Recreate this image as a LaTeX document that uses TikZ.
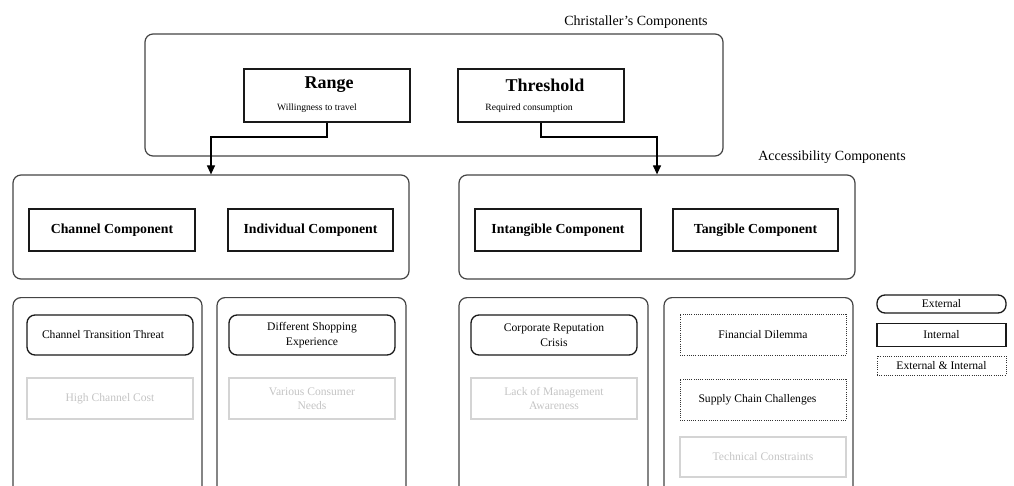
\documentclass[tikz,border=0pt]{standalone}
\usepackage{fontspec}
\setmainfont{Liberation Serif}
\usetikzlibrary{arrows.meta}
\definecolor{frame}{HTML}{444444}
\definecolor{ghost}{HTML}{D4D4D4}
\definecolor{ghosttext}{HTML}{C4C4C4}
\tikzset{
  outerbox/.style={draw=frame, line width=1.2pt, rounded corners=8pt, inner sep=0pt},
  compbox/.style={draw=black!90, line width=1.6pt, inner sep=0pt, minimum width=166pt, minimum height=42pt,
    font=\fontsize{13.8}{16}\selectfont\bfseries},
  topbox/.style={draw=black!90, line width=1.6pt, inner sep=0pt, minimum width=166pt, minimum height=53pt},
  extbox/.style={draw=black!90, line width=1.3pt, rounded corners=8pt, inner sep=0pt, minimum width=166pt,
    minimum height=40pt, align=center, font=\fontsize{11.6}{14.5}\selectfont},
  bothbox/.style={draw=black!80, line width=0.9pt, dash pattern=on 0.9pt off 1.3pt, inner sep=0pt,
    minimum width=166pt, minimum height=41pt, align=center, font=\fontsize{11.6}{14.5}\selectfont},
  ghostbox/.style={draw=ghost, line width=2pt, inner sep=0pt, minimum width=166pt, minimum height=41pt,
    align=center, text=ghosttext, font=\fontsize{11.6}{14.5}\selectfont},
  header/.style={font=\fontsize{14}{16}\selectfont, inner sep=0pt},
  titletext/.style={font=\fontsize{18}{20}\selectfont\bfseries, inner sep=0pt},
  subtext/.style={font=\fontsize{9.6}{11}\selectfont, inner sep=0pt},
  legendtext/.style={font=\fontsize{11.6}{13}\selectfont, inner sep=0pt, minimum width=129pt},
  conn/.style={line width=1.2pt, black, -{Triangle[length=9pt,width=8pt]}},
}
\begin{document}
\begin{tikzpicture}[x=1pt,y=-1pt]
\useasboundingbox (0,0) rectangle (1014,486);
\clip (0,0) rectangle (1014,486);

% Christaller's components
\node[header] (chlabel) at (636,22) {Christaller’s Components};
\node[outerbox, minimum width=578pt, minimum height=122pt] (top) at (434,95) {};
\node[topbox] (range) at (327,95.5) {};
\node[titletext] (rangetitle) at (329,85) {Range};
\node[subtext] (rangesub) at (317,108) {Willingness to travel};
\node[topbox] (threshold) at (541,95.5) {};
\node[titletext] (thrtitle) at (545,85) {Threshold};
\node[subtext] (thrsub) at (529,108) {Required consumption};

% Accessibility components
\node[header] (acclabel) at (832,157) {Accessibility Components};
\node[outerbox, minimum width=396pt, minimum height=104pt] (midL) at (211,227) {};
\node[outerbox, minimum width=396pt, minimum height=104pt] (midR) at (657,227) {};
\node[compbox] (channel) at (112,230) {Channel Component};
\node[compbox, minimum width=165pt] (individual) at (310.5,230) {Individual Component};
\node[compbox] (intangible) at (558,230) {Intangible Component};
\node[compbox, minimum width=165pt] (tangible) at (755.5,230) {Tangible Component};

% connectors
\coordinate (rbend) at (327,137);
\coordinate (tbend) at (541,137);
\draw[conn] (range.south) -- (rbend) -| (midL.north);
\draw[conn] (threshold.south) -- (tbend) -| (midR.north);

% bottom columns
\node[outerbox, minimum width=189pt, minimum height=220pt, anchor=north] (col1) at (107.5,297) {};
\node[outerbox, minimum width=189pt, minimum height=220pt, anchor=north] (col2) at (311.5,297) {};
\node[outerbox, minimum width=189pt, minimum height=220pt, anchor=north] (col3) at (553.5,297) {};
\node[outerbox, minimum width=189pt, minimum height=220pt, anchor=north] (col4) at (758.5,297) {};

\node[extbox] (c1a) at (110,335) {\hspace*{-14pt}Channel Transition Threat};
\node[ghostbox] (c1b) at (110,398.5) {High Channel Cost};
\node[extbox] (c2a) at (312,335) {Different Shopping\\Experience};
\node[ghostbox] (c2b) at (312,398.5) {Various Consumer\\Needs};
\node[extbox] (c3a) at (554,335) {Corporate Reputation\\Crisis};
\node[ghostbox] (c3b) at (554,398.5) {Lack of Management\\Awareness};
\node[bothbox] (c4a) at (763,334.5) {Financial Dilemma};
\node[bothbox] (c4b) at (763,399.5) {\hspace*{-11pt}Supply Chain Challenges};
\node[ghostbox, minimum height=40pt] (c4c) at (763,457) {Technical Constraints};

% legend
\node[legendtext, draw=black!90, line width=1.3pt, rounded corners=8pt, minimum height=18pt] (legext) at (941.5,304) {External};
\node[legendtext, draw=black!90, line width=1.6pt, minimum height=23pt] (legint) at (941.5,335) {Internal};
\node[legendtext, draw=black!80, line width=0.9pt, dash pattern=on 0.9pt off 1.3pt, minimum height=19pt] (legboth) at (941.5,365.5) {External \& Internal};
\end{tikzpicture}
\end{document}
